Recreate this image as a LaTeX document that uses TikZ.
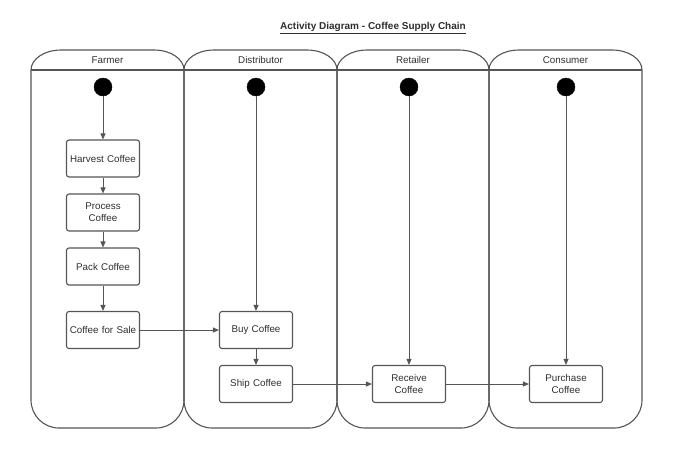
\documentclass[tikz,border=0pt]{standalone}
\usepackage{fontspec}
\setmainfont{Liberation Sans}
\usetikzlibrary{arrows.meta}
\definecolor{ln}{HTML}{555555}
\definecolor{tx}{HTML}{2E2E2E}
\tikzset{
  lane/.style={draw=ln, line width=1.1pt},
  act/.style={draw=ln, line width=1.1pt, rounded corners=2.5pt, minimum width=73pt, minimum height=37pt, inner sep=1pt, align=center, text width=71pt, font=\fontsize{9.8}{11.8}\selectfont, text=tx},
  startnode/.style={circle, fill=black, draw=black, minimum size=18pt, inner sep=0pt},
  flow/.style={draw=ln, line width=0.9pt, -{Triangle[length=6pt,width=5pt]}},
  lanelabel/.style={font=\fontsize{9.8}{11}\selectfont, text=tx},
}
\begin{document}
\begin{tikzpicture}[x=1pt,y=-1pt]
\useasboundingbox (0,0) rectangle (684,456);
% title
\node[font=\bfseries\fontsize{10}{12}\selectfont, text=tx] (title) at (373,28) {\underline{Activity Diagram - Coffee Supply Chain}};
% lanes
\foreach \l/\r/\name in {31/184/Farmer,184/337/Distributor,337/489/Retailer,489/642/Consumer}{
  \draw[lane] (\l,70) .. controls (\l,59) and ({\l+13.4},50) .. ({\l+30},50)
    -- ({\r-30},50) .. controls ({\r-13.4},50) and (\r,59) .. (\r,70)
    -- (\r,400) .. controls (\r,415.5) and ({\r-12.5},428) .. ({\r-28},428)
    -- ({\l+28},428) .. controls ({\l+12.5},428) and (\l,415.5) .. (\l,400) -- cycle;
  \draw[lane] (\l,70) -- (\r,70);
  \node[lanelabel] at ({(\l+\r)/2},60) {\name};
}
% start nodes
\node[startnode] (s1) at (103,87) {};
\node[startnode] (s2) at (256,87) {};
\node[startnode] (s3) at (409,87) {};
\node[startnode] (s4) at (566,87) {};
% activities
\node[act] (harvest) at (103,158.5) {Harvest Coffee};
\node[act] (process) at (103,212.5) {Process\\Coffee};
\node[act] (pack) at (103,266.5) {Pack Coffee};
\node[act] (sale) at (103,330) {Coffee for Sale};
\node[act] (buy) at (256,330) {Buy Coffee};
\node[act] (ship) at (256,384) {Ship Coffee};
\node[act] (receive) at (409,384) {Receive\\Coffee};
\node[act] (purchase) at (566,384) {Purchase\\Coffee};
% flows
\draw[flow] (s1) -- (harvest);
\draw[flow] (harvest) -- (process);
\draw[flow] (process) -- (pack);
\draw[flow] (pack) -- (sale);
\draw[flow] (sale) -- (buy);
\draw[flow] (s2) -- (buy);
\draw[flow] (buy) -- (ship);
\draw[flow] (ship) -- (receive);
\draw[flow] (s3) -- (receive);
\draw[flow] (receive) -- (purchase);
\draw[flow] (s4) -- (purchase);
\end{tikzpicture}
\end{document}
